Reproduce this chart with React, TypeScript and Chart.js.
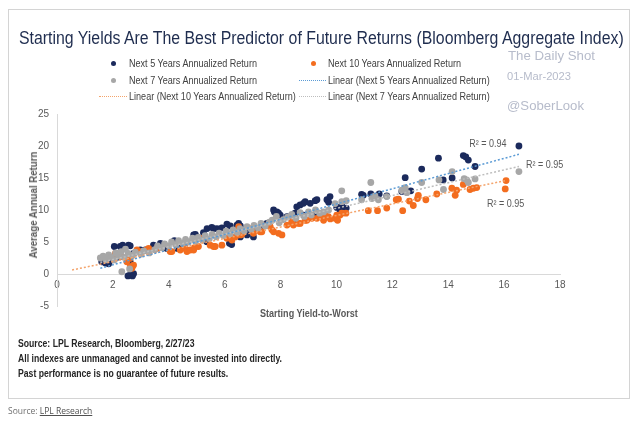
import React, { useEffect, useRef } from "react";
import { Chart, registerables } from "chart.js";
Chart.register(...registerables);

// [starting yield-to-worst, average annual return]
const next5Years: [number, number][] = [
  [1.6, 1.9], [1.73, 1.7], [1.85, 1.6], [1.95, 2.2], [2.05, 4.3], [2.15, 2.6], [2.26, 4.3], [2.35, 4.5],
  [2.56, 4.5], [2.62, 4.4], [2.54, -0.3], [2.62, -0.15], [2.7, -0.3], [2.74, 0.05], [2.62, 1.9], [2.74, 3.2],
  [2.9, 3.6], [2.98, 3.75], [3.16, 3.75], [3.45, 4.5], [3.63, 4.3], [3.7, 4.8], [3.93, 4.0], [4.2, 5.2],
  [4.31, 4.0], [4.35, 4.5], [4.6, 4.9], [4.89, 6.1], [4.95, 6.2], [5.0, 5.8], [5.24, 6.45], [5.36, 5.05],
  [5.37, 7.1], [5.54, 7.3], [5.6, 7.1], [5.72, 7.1], [5.78, 7.0], [5.9, 7.2], [6.08, 7.8], [6.17, 4.8],
  [6.2, 7.5], [6.25, 4.6], [6.44, 7.65], [6.5, 7.9], [6.56, 7.5], [6.56, 5.8], [6.8, 6.1], [6.8, 6.9],
  [7.03, 5.8], [7.2, 7.1], [7.27, 7.1], [7.51, 7.9], [7.75, 10.0], [7.78, 9.7], [7.87, 9.7], [7.93, 9.5],
  [7.99, 9.2], [8.23, 8.95], [8.46, 8.4], [8.52, 9.5], [8.58, 10.5], [8.7, 10.8], [8.82, 11.05], [8.82, 9.2],
  [8.88, 11.3], [9.06, 11.05], [9.24, 11.45], [9.3, 11.6], [9.24, 9.2], [9.36, 9.5], [9.66, 11.6], [9.72, 11.2],
  [9.77, 12.1], [10.01, 10.4], [10.08, 10.4], [10.13, 9.7], [10.21, 10.5], [10.35, 10.3], [10.9, 12.45],
  [10.96, 12.3], [11.23, 12.5], [11.53, 12.5], [11.8, 12.2], [12.34, 12.9], [12.46, 15.05], [12.66, 13.0],
  [13.05, 16.4], [13.65, 18.1], [13.82, 14.7], [14.14, 15.0], [14.54, 18.5], [14.63, 18.3], [14.72, 17.8],
  [14.96, 16.8], [16.53, 20.0],
];

const next10Years: [number, number][] = [
  [2.09, 3.2], [2.14, 3.0], [2.3, 2.7], [2.5, 2.45], [2.5, 1.9], [2.62, 2.45], [2.62, 1.1], [2.68, 0.9],
  [2.7, 1.2], [2.74, 1.4], [2.86, 3.75], [2.98, 3.5], [3.2, 3.75], [3.28, 4.0], [3.58, 4.0], [4.05, 3.5],
  [4.11, 3.5], [4.41, 3.75], [4.59, 4.0], [4.65, 3.5], [4.77, 3.75], [4.89, 3.75], [4.92, 4.1], [5.06, 4.3],
  [5.12, 5.6], [5.48, 4.5], [5.6, 4.3], [5.66, 4.3], [5.9, 4.5], [6.08, 5.6], [6.26, 5.3], [6.38, 5.8],
  [6.5, 7.4], [6.56, 6.1], [6.62, 6.2], [6.97, 7.1], [7.03, 6.35], [7.27, 6.6], [7.33, 6.6], [7.63, 7.4],
  [7.69, 6.9], [7.75, 6.6], [7.93, 6.35], [8.05, 6.1], [8.23, 7.65], [8.4, 8.2], [8.46, 7.65], [8.64, 7.9],
  [8.7, 7.9], [8.88, 8.4], [8.94, 8.4], [9.12, 8.7], [9.3, 8.7], [9.48, 9.2], [9.54, 8.95], [9.54, 8.4],
  [9.6, 9.2], [9.71, 8.95], [9.78, 8.6], [9.95, 8.7], [10.01, 9.2], [10.04, 8.4], [10.13, 9.2], [10.19, 9.5],
  [10.34, 9.5], [11.14, 9.9], [11.47, 9.9], [11.8, 10.3], [12.14, 11.6], [12.22, 11.7], [12.37, 9.9],
  [12.61, 11.4], [12.75, 10.7], [12.9, 11.8], [12.93, 12.3], [13.2, 11.6], [13.59, 12.5], [14.13, 13.4],
  [14.25, 12.3], [14.3, 13.1], [14.54, 14.0], [14.78, 13.2], [14.9, 13.4], [15.02, 13.5], [16.04, 13.3],
  [16.07, 14.6],
];

const next7Years: [number, number][] = [
  [1.55, 2.5], [1.65, 2.8], [1.75, 2.2], [1.85, 3.0], [1.95, 2.6], [2.05, 2.2], [2.1, 3.3], [2.2, 2.8],
  [2.3, 3.5], [2.32, 0.35], [2.4, 2.6], [2.45, 3.9], [2.55, 3.2], [2.6, 0.8], [2.7, 2.9], [2.8, 3.4],
  [3.0, 3.1], [3.1, 3.6], [3.3, 3.3], [3.5, 3.8], [3.6, 4.4], [3.75, 4.1], [3.85, 4.7], [4.0, 4.4],
  [4.1, 5.0], [4.25, 4.6], [4.35, 5.2], [4.5, 4.8], [4.6, 5.4], [4.7, 5.0], [4.85, 5.6], [4.95, 5.1],
  [5.05, 5.7], [5.2, 5.3], [5.3, 6.0], [5.45, 5.5], [5.55, 6.2], [5.7, 5.8], [5.8, 6.4], [5.95, 6.0],
  [6.05, 6.7], [6.2, 6.3], [6.3, 6.9], [6.45, 6.5], [6.55, 7.1], [6.7, 6.7], [6.8, 7.4], [6.95, 7.0],
  [7.05, 7.6], [7.2, 7.2], [7.3, 7.9], [7.45, 7.5], [7.6, 8.1], [7.7, 8.4], [7.85, 9.0], [7.95, 8.0],
  [8.1, 8.5], [8.25, 8.9], [8.4, 9.3], [8.55, 8.7], [8.7, 9.6], [8.85, 9.0], [9.0, 9.7], [9.1, 9.2],
  [9.25, 10.0], [9.4, 9.5], [9.54, 9.7], [9.72, 10.0], [9.95, 11.0], [10.19, 13.0], [10.19, 11.3],
  [10.35, 11.45], [10.9, 11.6], [11.23, 14.3], [11.27, 11.8], [11.38, 12.2], [11.5, 11.6], [11.8, 12.1],
  [12.34, 13.1], [12.46, 13.5], [12.52, 12.7], [13.05, 14.3], [13.67, 14.7], [13.83, 13.2], [14.14, 16.0],
  [14.57, 14.9], [14.66, 14.7], [14.72, 14.3], [14.96, 14.85], [16.53, 16.0],
];

// Linear trend line end points
const linear5Years: [number, number][] = [[1.55, 0.9], [16.53, 18.7]];
const linear10Years: [number, number][] = [[0.54, 0.63], [16.06, 14.6]];
const linear7Years: [number, number][] = [[1.55, 1.8], [16.53, 16.8]];

const r2Labels = ["R² = 0.94", "R² = 0.95", "R² = 0.95"];
const r2Positions: [number, number][] = [[14.75, 20.3], [16.78, 17.0], [15.39, 10.9]];

const xTicks = [0, 2, 4, 6, 8, 10, 12, 14, 16, 18];
const yTicks = [-5, 0, 5, 10, 15, 20, 25];

const NAVY = "#1b2a5c";
const ORANGE = "#f36d1f";
const GRAY = "#a7a7a7";
const SANS = '"Liberation Sans", Arial, sans-serif';
const CONDENSE = 0.86; // horizontal squeeze applied to label text to mimic a narrow face

const toXY = (a: [number, number][]) => a.map(([x, y]) => ({ x, y }));

let measureCtx: CanvasRenderingContext2D | null = null;
function measure(text: string, font: string) {
  if (!measureCtx) measureCtx = document.createElement("canvas").getContext("2d");
  measureCtx!.font = font;
  return measureCtx!.measureText(text).width;
}

const r2Plugin = {
  id: "r2labels",
  afterDatasetsDraw(chart: any) {
    const { ctx, scales } = chart;
    ctx.save();
    ctx.font = `10px ${SANS}`;
    ctx.fillStyle = "#595959";
    ctx.textAlign = "left";
    ctx.textBaseline = "middle";
    r2Labels.forEach((t, i) => {
      const [x, y] = r2Positions[i];
      const px = scales.x.getPixelForValue(x);
      const py = scales.y.getPixelForValue(y);
      ctx.save();
      ctx.translate(px, py);
      ctx.scale(0.9, 1);
      ctx.fillText(t, 0, 0);
      ctx.restore();
    });
    ctx.restore();
  },
};

const abs = (style: React.CSSProperties): React.CSSProperties => ({ position: "absolute", whiteSpace: "nowrap", ...style });

// Text fitted horizontally to a target width (left-aligned, vertically centred on y)
function Txt({ x, y, text, size, width, color, bold, family = SANS, center = false }: {
  x: number; y: number; text: string; size: number; width?: number; color: string; bold?: boolean; family?: string; center?: boolean;
}) {
  const font = `${bold ? "bold " : ""}${size}px ${family}`;
  const w = measure(text, font);
  const sx = width ? width / w : CONDENSE;
  const finalW = w * sx;
  return (
    <div
      style={abs({
        left: center ? x - finalW / 2 : x,
        top: y - size * 0.65,
        lineHeight: `${Math.round(size * 1.3)}px`,
        fontSize: size,
        fontWeight: bold ? "bold" : "normal",
        fontFamily: family,
        color,
        transform: `scaleX(${sx})`,
        transformOrigin: "0 0",
      })}
    >
      {text}
    </div>
  );
}

function Dot({ x, y, color }: { x: number; y: number; color: string }) {
  return <div style={abs({ left: x - 2.5, top: y - 2.5, width: 5, height: 5, borderRadius: "50%", background: color })} />;
}
function Dash({ x1, x2, y, color }: { x1: number; x2: number; y: number; color: string }) {
  return <div style={abs({ left: x1, top: y - 0.5, width: x2 - x1, height: 0, borderTop: `1.5px dotted ${color}` })} />;
}

export default function App() {
  const ref = useRef<HTMLCanvasElement>(null);
  useEffect(() => {
    const chart = new Chart(ref.current!, {
      type: "scatter",
      data: {
        datasets: [
          { type: "line", label: "Linear (Next 5 Years Annualized Return)", data: toXY(linear5Years), borderColor: "#5b9bd5", borderWidth: 1.5, borderDash: [2, 2], pointRadius: 0, fill: false, order: 0 } as any,
          { type: "line", label: "Linear (Next 10 Years Annualized Return)", data: toXY(linear10Years), borderColor: "#f4a46c", borderWidth: 1.5, borderDash: [2, 2], pointRadius: 0, fill: false, order: 0 } as any,
          { type: "line", label: "Linear (Next 7 Years Annualized Return)", data: toXY(linear7Years), borderColor: "#bdbdbd", borderWidth: 1.5, borderDash: [2, 2], pointRadius: 0, fill: false, order: 0 } as any,
          { label: "Next 7 Years Annualized Return", data: toXY(next7Years), backgroundColor: GRAY, borderWidth: 0, pointRadius: 3.4, order: 1 },
          { label: "Next 10 Years Annualized Return", data: toXY(next10Years), backgroundColor: ORANGE, borderWidth: 0, pointRadius: 3.4, order: 2 },
          { label: "Next 5 Years Annualized Return", data: toXY(next5Years), backgroundColor: NAVY, borderWidth: 0, pointRadius: 3.4, order: 3 },
        ],
      },
      options: {
        animation: false,
        responsive: false,
        layout: { padding: { left: 0, right: 80, top: 114, bottom: 119 } },
        plugins: { legend: { display: false }, tooltip: { enabled: false } },
        scales: {
          x: {
            type: "linear",
            min: 0,
            max: 18,
            position: { y: 0 } as any,
            afterBuildTicks: (s: any) => { s.ticks = xTicks.map((v) => ({ value: v })); },
            ticks: { color: "#595959", font: { family: SANS, size: 10 }, padding: 5 },
            grid: { display: false, drawTicks: false },
            border: { display: true, color: "#d9d9d9", width: 1 },
          },
          y: {
            min: -5,
            max: 25,
            afterFit: (s: any) => { s.width = 57; },
            afterBuildTicks: (s: any) => { s.ticks = yTicks.map((v) => ({ value: v })); },
            ticks: { color: "#595959", font: { family: SANS, size: 10 }, padding: 8 },
            grid: { display: false, drawTicks: false },
            border: { display: true, color: "#d9d9d9", width: 1 },
          },
        },
      },
      plugins: [r2Plugin],
    });
    return () => chart.destroy();
  }, []);

  const legendColor = "#404040";
  const legendSize = 10.5;
  const legendScale = 128.6 / measure("Next 5 Years Annualized Return", `${legendSize}px ${SANS}`);
  const L = (x: number, y: number, text: string) => (
    <Txt x={x} y={y} text={text} size={legendSize} color={legendColor} width={measure(text, `${legendSize}px ${SANS}`) * legendScale} />
  );
  const footSize = 10;
  const footScale = 264 / measure("All indexes are unmanaged and cannot be invested into directly.", `bold ${footSize}px ${SANS}`);
  const F = (y: number, text: string) => (
    <Txt x={18} y={y} text={text} size={footSize} bold color="#262626" width={measure(text, `bold ${footSize}px ${SANS}`) * footScale} />
  );

  return (
    <div style={{ position: "absolute", left: 0, top: 0, width: 640, height: 425, background: "#fff", overflow: "hidden" }}>
      <div style={abs({ left: 8, top: 9, width: 622, height: 390, border: "1px solid #d4d4d4", boxSizing: "border-box" })} />
      <canvas ref={ref} width={640} height={425} style={{ position: "absolute", left: 0, top: 0, width: 640, height: 425 }} />
      <Txt x={18.5} y={38.5} text="Starting Yields Are The Best Predictor of Future Returns (Bloomberg Aggregate Index)" size={17.5} width={607} color="#1f2d4f" />
      <Txt x={508} y={56} text="The Daily Shot" size={13.5} width={87} color="#b7bccb" />
      <Txt x={507} y={76} text="01-Mar-2023" size={10.5} width={64} color="#b7bccb" />
      <Txt x={507} y={106} text="@SoberLook" size={13.5} width={77} color="#b7bccb" />

      <Dot x={113} y={63} color={NAVY} />
      {L(129, 63, "Next 5 Years Annualized Return")}
      <Dot x={313} y={63} color={ORANGE} />
      {L(328, 63, "Next 10 Years Annualized Return")}
      <Dot x={113} y={80} color={GRAY} />
      {L(129, 80, "Next 7 Years Annualized Return")}
      <Dash x1={299} x2={326} y={80} color="#5b9bd5" />
      {L(328, 80, "Linear (Next 5 Years Annualized Return)")}
      <Dash x1={99} x2={127} y={96} color="#f4a46c" />
      {L(129, 96, "Linear (Next 10 Years Annualized Return)")}
      <Dash x1={299} x2={326} y={96} color="#bdbdbd" />
      {L(328, 96, "Linear (Next 7 Years Annualized Return)")}

      <div style={abs({ left: 33, top: 205, transform: "translate(-50%, -50%) rotate(-90deg) scaleX(0.92)", fontSize: 10.5, fontWeight: "bold", fontFamily: SANS, color: "#595959" })}>Average Annual Return</div>
      <Txt x={309} y={313} text="Starting Yield-to-Worst" size={10.5} bold width={98} center color="#595959" />

      {F(343, "Source: LPL Research, Bloomberg, 2/27/23")}
      {F(358, "All indexes are unmanaged and cannot be invested into directly.")}
      {F(373, "Past performance is no guarantee of future results.")}

      <div style={abs({ left: 8, top: 404, lineHeight: "13px", fontSize: 8.5, fontFamily: '"Open Sans", sans-serif', color: "#707070" })}>
        Source: <span style={{ textDecoration: "underline", color: "#505050" }}>LPL Research</span>
      </div>
    </div>
  );
}
